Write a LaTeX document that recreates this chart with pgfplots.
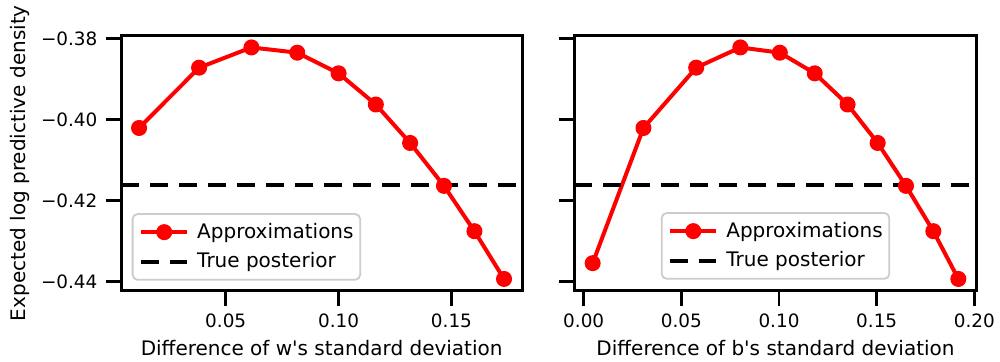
\documentclass[border=0pt]{standalone}
\usepackage{fontspec}
\setmainfont{DejaVu Sans}
\usepackage{pgfplots}
\pgfplotsset{compat=1.18}
\begin{document}
\begin{tikzpicture}
\useasboundingbox (0,0) rectangle (500pt,181pt);
\pgfplotsset{
  mystyle/.style={
    scale only axis, width=200.65pt, height=127.5pt,
    ymin=-0.4423, ymax=-0.3793,
    axis line style={line width=1.5pt},
    tick align=outside, tick pos=left,
    major tick length=7.7pt,
    every tick/.style={line width=1.4pt, black},
    ytick={-0.44,-0.42,-0.40,-0.38},
    ticklabel style={font=\fontsize{9.2}{11}\selectfont, inner sep=0pt},
    xticklabel style={anchor=base, yshift=-10.6pt},
    yticklabel style={anchor=east, xshift=-3.9pt},
    label style={font=\fontsize{10}{12}\selectfont},
    every axis x label/.style={at={(axis description cs:0.5,-0.2561)}, anchor=base},
    legend style={draw=black!20, line width=0.9pt, rounded corners=2.5pt, fill=white,
      font=\fontsize{10}{12}\selectfont, inner xsep=3.3pt, inner ysep=4.5pt,
      row sep=5.7pt, column sep=4pt,
      nodes={inner sep=0pt}},
    legend cell align=left,
    legend image code/.code={\draw[mark repeat=2,mark phase=2,##1] plot coordinates {(0pt,0pt) (11.5pt,0pt) (23pt,0pt)};},
  }
}
\begin{axis}[mystyle, at={(60.5pt,35.65pt)}, anchor=south west,
  xmin=0.0036, xmax=0.1814,
  xtick={0.05,0.10,0.15}, xticklabels={0.05,0.10,0.15},
  yticklabels={−0.44,−0.42,−0.40,−0.38},
  xlabel={Difference of w\textquotesingle s standard deviation},
  ylabel={Expected log predictive density},
  every axis y label/.style={at={(axis description cs:-0.2392,0.5)}, rotate=90, anchor=base},
  legend style={at={(0.0267,0.039)}, anchor=south west},
]
\addplot[red, line width=2pt, line join=round, mark=*, mark size=3pt, mark options={draw=none, fill=red}] coordinates {
(0.0116,-0.4021) (0.0382,-0.3872) (0.0614,-0.3822) (0.0817,-0.3835) (0.1000,-0.3886)
(0.1165,-0.3963) (0.1317,-0.4058) (0.1467,-0.4164) (0.1602,-0.4276) (0.1733,-0.4394)};
\addlegendentry{Approximations}
\addplot[black, line width=2pt, dash pattern=on 9pt off 5.5pt] coordinates {(0.0036,-0.4162) (0.1814,-0.4162)};
\addlegendentry{True posterior}
\end{axis}
\begin{axis}[mystyle, at={(287.15pt,35.65pt)}, anchor=south west, width=201.2pt,
  xmin=-0.0048, xmax=0.2012,
  xtick={0,0.05,0.10,0.15,0.20}, xticklabels={0.00,0.05,0.10,0.15,0.20},
  yticklabels={},
  xlabel={Difference of b\textquotesingle s standard deviation},
  legend style={at={(0.5,0.043)}, anchor=south},
]
\addplot[red, line width=2pt, line join=round, mark=*, mark size=3pt, mark options={draw=none, fill=red}] coordinates {
(0.0046,-0.4355) (0.0306,-0.4021) (0.0576,-0.3872) (0.0802,-0.3822) (0.1004,-0.3835)
(0.1183,-0.3886) (0.1351,-0.3963) (0.1505,-0.4058) (0.1650,-0.4164) (0.1790,-0.4276) (0.1918,-0.4394)};
\addlegendentry{Approximations}
\addplot[black, line width=2pt, dash pattern=on 9pt off 5.5pt] coordinates {(-0.0048,-0.4162) (0.2012,-0.4162)};
\addlegendentry{True posterior}
\end{axis}
\end{tikzpicture}
\end{document}
